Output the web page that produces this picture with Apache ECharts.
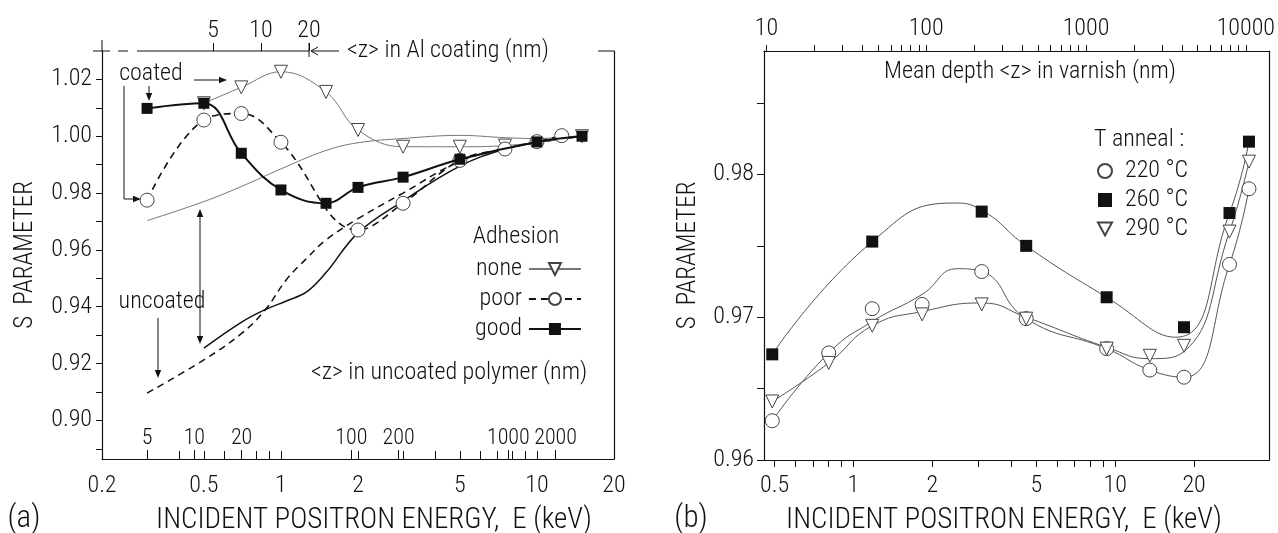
<!DOCTYPE html>
<html>
<head>
<meta charset="utf-8">
<script src="https://cdn.jsdelivr.net/npm/echarts@6/dist/echarts.min.js"></script>
<style>
  html, body { margin: 0; padding: 0; background: #fff; }
  #chart { width: 1278px; height: 533px; }
</style>
</head>
<body>
<div id="chart"></div>
<script>
// ---- panel (a): S parameter vs energy, Al-coated / uncoated polymer ----
const leftNoneE = [0.5, 0.7, 1, 1.5, 2, 3, 5, 7.5, 15];
const leftNoneS = [1.0116, 1.0172, 1.0227, 1.0156, 1.0022, 0.9963, 0.9963, 0.9967, 1.0000];
const leftPoorE = [0.3, 0.5, 0.7, 1, 2, 3, 5, 7.5, 10, 12.5];
const leftPoorS = [0.9775, 1.0057, 1.0080, 0.9979, 0.9670, 0.9764, 0.9915, 0.9955, 0.9981, 1.0002];
const leftGoodE = [0.3, 0.5, 0.7, 1, 1.5, 2, 3, 5, 10, 15];
const leftGoodS = [1.0098, 1.0116, 0.9940, 0.9811, 0.9764, 0.9820, 0.9856, 0.9919, 0.9980, 1.0000];

// uncoated curves (no markers)
const uncNoneE = [0.3, 0.5, 0.7, 1, 1.5, 2, 3, 5, 7.5, 10, 15];
const uncNoneS = [0.9703, 0.9770, 0.9823, 0.9885, 0.9950, 0.9977, 0.9992, 1.0003, 0.9995, 0.9992, 1.0003];
const uncPoorE = [0.3, 0.5, 0.7, 0.87, 1.05, 1.26, 1.5, 2, 3, 5, 7.5, 10, 15];
const uncPoorS = [0.9096, 0.9213, 0.9305, 0.9390, 0.9495, 0.9570, 0.9635, 0.9710, 0.9800, 0.9912, 0.9957, 0.9978, 1.0000];
const uncGoodE = [0.5, 0.7, 0.87, 1.05, 1.26, 1.5, 2, 3, 5, 7.5, 10, 15];
const uncGoodS = [0.9254, 0.9345, 0.9390, 0.9420, 0.9452, 0.9520, 0.9660, 0.9772, 0.9895, 0.9955, 0.9978, 1.0000];

// ---- panel (b): varnish, annealing temperature (measured points) ----
const s220E = [0.49, 0.805, 1.18, 1.83, 3.09, 4.57, 9.27, 13.55, 18.3, 27.3, 32.4];
const s220S = [0.96275, 0.9675, 0.9706, 0.9709, 0.9732, 0.9699, 0.9678, 0.9663, 0.9658, 0.9737, 0.9790];
const s260E = [0.49, 1.18, 3.09, 4.57, 9.27, 18.3, 27.3, 32.4];
const s260S = [0.9674, 0.9753, 0.9774, 0.9750, 0.9714, 0.9693, 0.9773, 0.9823];
const s290E = [0.49, 0.805, 1.18, 1.83, 3.09, 4.57, 9.27, 13.55, 18.3, 27.3, 32.4];
const s290S = [0.9641, 0.9668, 0.9694, 0.9702, 0.9709, 0.9699, 0.9678, 0.9673, 0.9680, 0.9760, 0.9809];

// panel (b) guide curves
const fit220E = [0.49, 0.805, 1.18, 1.83, 2.5, 3.09, 4.57, 9.27, 13.55, 18.3, 27.3, 32.4];
const fit220S = [0.96275, 0.9675, 0.9697, 0.9716, 0.9734, 0.9732, 0.9699, 0.9678, 0.9663, 0.9658, 0.9737, 0.9790];
const fit260E = [0.49, 1.18, 2.4, 3.09, 4.57, 9.27, 17, 27.3, 32.4];
const fit260S = [0.9674, 0.9753, 0.9780, 0.9775, 0.9750, 0.9714, 0.9686, 0.9773, 0.9823];
const fit290E = [0.49, 0.805, 1.18, 1.83, 3.09, 4.57, 9.27, 13.55, 18.3, 27.3, 32.4];
const fit290S = [0.9641, 0.9668, 0.9694, 0.9704, 0.9710, 0.9700, 0.9679, 0.9671, 0.9676, 0.9760, 0.9809];

// ticks / labels
const leftETicks = [0.3, 0.4, 0.5, 0.6, 0.7, 0.8, 0.9, 1, 2, 3, 4, 5, 6, 7, 8, 9, 10];
const leftELabels = [0.2, 0.5, 1, 2, 5, 10, 20];
const alZLabels = [5, 10, 20];
const polyZLabels = [5, 10, 20, 100, 200, 1000, 2000];
const leftSTicks = [0.89, 0.90, 0.91, 0.92, 0.93, 0.94, 0.95, 0.96, 0.97, 0.98, 0.99, 1.00, 1.01, 1.02];
const leftSLabels = [0.90, 0.92, 0.94, 0.96, 0.98, 1.00, 1.02];
const rightETicks = [0.5, 0.6, 0.7, 0.8, 0.9, 1, 2, 3, 4, 5, 6, 7, 8, 9, 10, 20];
const rightELabels = [0.5, 1, 2, 5, 10, 20];
const varZTicks = [10, 20, 30, 40, 50, 60, 70, 80, 90, 100, 200, 300, 400, 500, 600, 700, 800, 900,
  1000, 2000, 3000, 4000, 5000, 6000, 7000, 8000, 9000, 10000];
const varZLabels = [10, 100, 1000, 10000];
const rightSTicks = [0.96, 0.965, 0.97, 0.975, 0.98, 0.985];
const rightSLabels = [0.96, 0.97, 0.98];

const FONT = '"Roboto Condensed", "DejaVu Sans Condensed", sans-serif';
const FW = 300;
const INK = '#111';
const FS = 24;

const zip = (a, b) => a.map((v, i) => [v, b[i]]);
const num = v => String(+(+v).toPrecision(6));

const chartDom = document.getElementById('chart');
const chart = echarts.init(chartDom, null, {renderer: 'canvas'});

const lbl = (values, extra) => Object.assign({
  customValues: values, color: INK, fontSize: FS, fontWeight: FW, fontFamily: FONT,
  formatter: num, hideOverlap: false,
}, extra || {});
const tck = (values, inside, length) => ({
  show: true, customValues: values, inside, length, lineStyle: {color: INK, width: 1},
});
const line = {show: true, lineStyle: {color: INK, width: 1.2}};
const nameStyle = {color: INK, fontSize: FS + 1, fontWeight: FW, fontFamily: FONT};

// arrow helper for the annotation layer (pixel coords)
function arrowHead(x, y, dir) {
  const L = 8, W = 3.2;
  const pts = {
    down: [[x, y], [x - W, y - L], [x + W, y - L]],
    up: [[x, y], [x - W, y + L], [x + W, y + L]],
    right: [[x, y], [x - L, y - W], [x - L, y + W]],
  }[dir];
  return {type: 'polygon', shape: {points: pts}, style: {fill: INK}};
}
const seg = (x1, y1, x2, y2, w) => ({
  type: 'line', shape: {x1, y1, x2, y2}, style: {stroke: INK, lineWidth: w || 1},
});
const txt = (x, y, text, align, size) => ({
  type: 'text', x, y,
  style: {
    text, fill: INK, font: `${FW} ${size || FS}px ${FONT}`,
    align: align || 'center', verticalAlign: 'middle',
  },
});

const openSym = {color: '#fff', borderColor: '#444', borderWidth: 1, opacity: 1};
const solidSym = {color: INK, opacity: 1};
const fitLine = (data) => ({
  type: 'line', xAxisIndex: 3, yAxisIndex: 2, data, smooth: 0.5, showSymbol: false,
  lineStyle: {color: '#555', width: 1}, z: 1,
});
const dots = (name, data, symbol, size, style, rotate) => ({
  name, type: 'scatter', xAxisIndex: 3, yAxisIndex: 2, data, symbol, symbolSize: size,
  symbolRotate: rotate || 0, itemStyle: style, z: 3,
});

const options = {
  backgroundColor: '#fff',
  animation: false,
  grid: [
    {left: 102, top: 51, width: 512, height: 408},
    {left: 764, top: 51, width: 513, height: 409},
  ],
  xAxis: [
    { // 0: energy, panel a
      gridIndex: 0, type: 'log', min: 0.2, max: 20, position: 'bottom',
      axisLine: line, axisTick: tck(leftETicks, true, 8),
      axisLabel: lbl(leftELabels, {margin: 15}), splitLine: {show: false},
    },
    { // 1: <z> in Al coating
      gridIndex: 0, type: 'log', min: 1.007, max: 1633, position: 'top',
      axisLine: {show: false}, axisTick: tck(alZLabels, false, 8),
      axisLabel: lbl(alZLabels, {margin: 8}), splitLine: {show: false},
    },
    { // 2: <z> in uncoated polymer
      gridIndex: 0, type: 'log', min: 2.58, max: 4711, position: 'bottom',
      axisLine: {show: false}, axisTick: tck(polyZLabels, true, 9),
      axisLabel: lbl(polyZLabels, {inside: true, margin: 10, fontSize: 22}), splitLine: {show: false},
    },
    { // 3: energy, panel b
      gridIndex: 1, type: 'log', min: 0.4556, max: 38.7, position: 'bottom',
      axisLine: line, axisTick: tck(rightETicks, false, 7),
      axisLabel: lbl(rightELabels, {margin: 14}), splitLine: {show: false},
    },
    { // 4: mean depth in varnish
      gridIndex: 1, type: 'log', min: 9.66, max: 14000, position: 'top',
      axisLine: line, axisTick: tck(varZTicks, false, 6),
      axisLabel: lbl(varZLabels, {margin: 10}), splitLine: {show: false},
    },
  ],
  yAxis: [
    {
      gridIndex: 0, type: 'value', min: 0.8864, max: 1.030,
      axisLine: line, axisTick: tck(leftSTicks, false, 6),
      axisLabel: lbl(leftSLabels, {margin: 10, formatter: v => (+v).toFixed(2)}),
      splitLine: {show: false},
      name: 'S  PARAMETER', nameLocation: 'middle', nameGap: 64, nameRotate: 90,
      nameTextStyle: nameStyle,
    },
    {
      gridIndex: 0, type: 'value', min: 0.8864, max: 1.030, position: 'right',
      axisLine: line, axisTick: {show: false}, axisLabel: {show: false}, splitLine: {show: false},
    },
    {
      gridIndex: 1, type: 'value', min: 0.96, max: 0.98865,
      axisLine: line, axisTick: tck(rightSTicks, false, 7),
      axisLabel: lbl(rightSLabels, {margin: 10, formatter: v => (+v).toFixed(2)}),
      splitLine: {show: false},
      name: 'S  PARAMETER', nameLocation: 'middle', nameGap: 63, nameRotate: 90,
      nameTextStyle: nameStyle,
    },
    {
      gridIndex: 1, type: 'value', min: 0.96, max: 0.98865, position: 'right',
      axisLine: line, axisTick: {show: false}, axisLabel: {show: false}, splitLine: {show: false},
    },
  ],
  legend: [
    {
      data: ['none', 'poor', 'good'], orient: 'vertical', left: 470, top: 252,
      align: 'right', itemWidth: 52, itemHeight: 15, itemGap: 6, selectedMode: false,
      textStyle: {color: INK, fontSize: FS, fontWeight: FW, fontFamily: FONT, padding: [0, 2, 0, 0]},
    },
    {
      data: [
        {name: '220 °C', icon: 'circle'},
        {name: '260 °C', icon: 'rect'},
        {name: '290 °C', icon: 'path://M0,0L12,0L6,11Z'},
      ],
      orient: 'vertical', left: 1092, top: 154, itemWidth: 14, itemHeight: 14, itemGap: 5,
      selectedMode: false,
      textStyle: {color: INK, fontSize: FS, fontWeight: FW, fontFamily: FONT, padding: [0, 0, 0, 8]},
    },
  ],
  series: [
    {
      name: 'none', type: 'line', xAxisIndex: 0, yAxisIndex: 0, data: zip(leftNoneE, leftNoneS),
      smooth: 0.4, symbol: 'triangle', symbolRotate: 180, symbolSize: 13, z: 3,
      lineStyle: {color: '#777', width: 1}, itemStyle: openSym,
    },
    {
      name: 'poor', type: 'line', xAxisIndex: 0, yAxisIndex: 0, data: zip(leftPoorE, leftPoorS),
      smooth: 0.4, symbol: 'circle', symbolSize: 14, z: 4,
      lineStyle: {color: INK, width: 1.6, type: [7, 5]}, itemStyle: openSym,
    },
    {
      name: 'good', type: 'line', xAxisIndex: 0, yAxisIndex: 0, data: zip(leftGoodE, leftGoodS),
      smooth: 0.4, symbol: 'rect', symbolSize: 11, z: 5,
      lineStyle: {color: INK, width: 2}, itemStyle: solidSym,
    },
    {
      type: 'line', xAxisIndex: 0, yAxisIndex: 0, data: zip(uncNoneE, uncNoneS),
      smooth: 0.4, showSymbol: false, lineStyle: {color: '#777', width: 1}, z: 2,
    },
    {
      type: 'line', xAxisIndex: 0, yAxisIndex: 0, data: zip(uncPoorE, uncPoorS),
      smooth: 0.4, showSymbol: false, lineStyle: {color: INK, width: 1.5, type: [7, 5]}, z: 2,
    },
    {
      type: 'line', xAxisIndex: 0, yAxisIndex: 0, data: zip(uncGoodE, uncGoodS),
      smooth: 0.4, showSymbol: false, lineStyle: {color: INK, width: 1.5}, z: 2,
    },
    fitLine(zip(fit220E, fit220S)),
    fitLine(zip(fit260E, fit260S)),
    fitLine(zip(fit290E, fit290S)),
    dots('220 °C', zip(s220E, s220S), 'circle', 14, openSym),
    dots('260 °C', zip(s260E, s260S), 'rect', 12, solidSym),
    dots('290 °C', zip(s290E, s290S), 'triangle', 13, openSym, 180),
  ],
  graphic: [
    // broken top frame of panel (a) and the Al-coating scale arrow
    seg(93, 51, 110, 51), seg(118, 51, 128, 51), seg(137, 51, 309, 51), seg(598, 51, 614, 51),
    seg(102, 40, 102, 51), seg(309, 43, 309, 57),
    seg(311, 51, 339, 51), seg(318, 47, 311, 51), seg(318, 55, 311, 51),
    txt(347, 51, '<z> in Al coating (nm)', 'left'),
    // annotations
    txt(151, 74, 'coated'),
    seg(149, 86, 149, 95), arrowHead(149, 101, 'down'),
    seg(194, 80, 220, 80), arrowHead(227, 80, 'right'),
    seg(124, 86, 124, 199), seg(124, 199, 134, 199), arrowHead(141, 199, 'right'),
    txt(162, 302, 'uncoated'),
    seg(200, 216, 200, 337), arrowHead(200, 209, 'up'), arrowHead(200, 344, 'down'),
    seg(158, 318, 158, 371), arrowHead(158, 378, 'down'),
    txt(516, 237, 'Adhesion'),
    txt(449, 373, '<z> in uncoated polymer (nm)'),
    txt(24, 519, '(a)', 'center', 31),
    txt(374, 521, 'INCIDENT POSITRON ENERGY,  E (keV)', 'center', 29),
    // panel (b)
    txt(1030, 72, 'Mean depth <z> in varnish (nm)'),
    txt(1094, 140, 'T anneal :', 'left'),
    txt(691, 519, '(b)', 'center', 31),
    txt(1004, 521, 'INCIDENT POSITRON ENERGY,  E (keV)', 'center', 29),
  ],
};

chart.setOption(options);
window.addEventListener('resize', chart.resize);
</script>
</body>
</html>
